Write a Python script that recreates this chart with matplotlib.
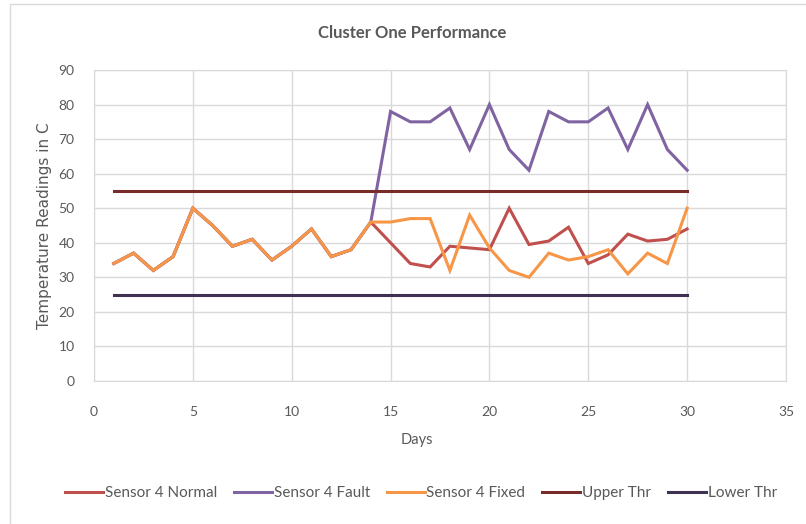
import matplotlib.pyplot as plt
from matplotlib.patches import Rectangle

plt.rcParams['font.family'] = ['Lato', 'DejaVu Sans']

days = list(range(1, 31))

normal = [34, 37, 32, 36, 50, 45, 39, 41, 35, 39, 44, 36, 38, 46,
          40, 34, 33, 39, 38.5, 38, 50, 39.5, 40.5, 44.5, 34, 36.5, 42.5, 40.5, 41, 44]
fault = [34, 37, 32, 36, 50, 45, 39, 41, 35, 39, 44, 36, 38, 46,
         78, 75, 75, 79, 67, 80, 67, 61, 78, 75, 75, 79, 67, 80, 67, 61]
fixed = [34, 37, 32, 36, 50, 45, 39, 41, 35, 39, 44, 36, 38, 46,
         46, 47, 47, 32, 48, 38.5, 32, 30, 37, 35, 36, 38, 31, 37, 34, 50]
upper = [55] * 30
lower = [25] * 30

labels = ['Sensor 4 Normal', 'Sensor 4 Fault', 'Sensor 4 Fixed', 'Upper Thr', 'Lower Thr']
colors = ['#C0504D', '#8064A2', '#F79646', '#772C2A', '#3F3151']
series = [normal, fault, fixed, upper, lower]

txt = '#595959'
fig = plt.figure(figsize=(8.06, 5.24), dpi=100)
ax = fig.add_axes([94 / 806, 1 - 381 / 524, 692 / 806, 311 / 524])

# fault drawn first so the others sit on top of it
order = [1, 0, 2, 3, 4]
handles = {}
for i in order:
    ln, = ax.plot(days, series[i], color=colors[i], lw=2.2, label=labels[i],
                  solid_joinstyle='miter', zorder=3 + i)
    handles[i] = ln

ax.set_xlim(0, 35)
ax.set_ylim(0, 90)
ax.set_xticks(range(0, 36, 5))
ax.set_yticks(range(0, 91, 10))
ax.grid(True, color='#d9d9d9', lw=1)
ax.set_axisbelow(True)
for s in ax.spines.values():
    s.set_color('#d9d9d9')
ax.tick_params(length=0, labelsize=10, colors=txt)
ax.tick_params(axis='x', pad=18)
ax.tick_params(axis='y', pad=14)

ax.set_xlabel('Days', fontsize=10.5, color=txt)
ax.xaxis.set_label_coords((417 - 94) / 692, -(440 - 381) / 311)
ax.xaxis.label.set_va('center')
ax.set_ylabel('Temperature Readings in C', fontsize=11, color=txt,
              family=['DejaVu Sans'])
ax.yaxis.set_label_coords((45 - 94) / 692, 0.498)
ax.yaxis.label.set_va('center')
fig.text(0.511, 1 - 33 / 524, 'Cluster One Performance', ha='center', va='center',
         fontsize=12, fontweight='bold', color=txt)

fig.legend([handles[i] for i in range(5)], labels, loc='center',
           bbox_to_anchor=(421 / 806, 1 - 493 / 524), ncol=5, frameon=False,
           fontsize=11, labelcolor=txt, handlelength=2.5, handletextpad=0.1,
           columnspacing=1.1)

# chart border
fig.patches.append(Rectangle((10 / 806, -0.1), 1.2, 1 - 4 / 524 + 0.1,
                             transform=fig.transFigure, fill=False,
                             edgecolor='#d9d9d9', lw=1))

fig.savefig('out.png', dpi=100)
